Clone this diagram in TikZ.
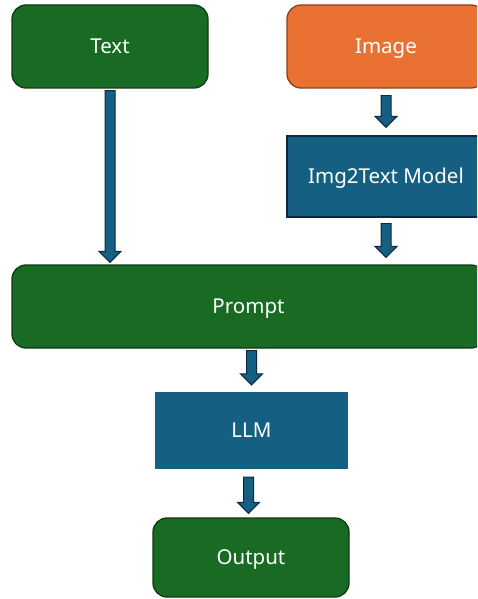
\documentclass[tikz,border=0pt]{standalone}
\usepackage{fontspec}
\setmainfont{Noto Sans}
\usetikzlibrary{calc}
\definecolor{accgreen}{HTML}{196B24}
\definecolor{accgreenD}{HTML}{0D3A13}
\definecolor{accorange}{HTML}{E97132}
\definecolor{accorangeD}{HTML}{8E4118}
\definecolor{accblue}{HTML}{156082}
\definecolor{accblueD}{HTML}{0E2841}
\tikzset{
  x=1pt, y=-1pt,
  lbl/.style={text=white, font=\fontsize{20.5}{24}\selectfont, inner sep=0pt, text height=14.6pt, text depth=0pt},
  greenbox/.style={lbl, rectangle, rounded corners=14pt, fill=accgreen, draw=accgreenD, line width=1.3pt},
  orangebox/.style={lbl, rectangle, rounded corners=14pt, fill=accorange, draw=accorangeD, line width=1.3pt},
  bluebox/.style={lbl, rectangle, fill=accblue, draw=accblueD, line width=1.1pt},
  plainblue/.style={lbl, rectangle, fill=accblue},
  arrowfill/.style={fill=accblue, draw=accblueD, line width=1pt, line join=miter},
  barrow/.style 2 args={to path={let \p1=(\tikztostart), \p2=(\tikztotarget) in
    (\x1-5pt,\y1-#1) -- (\x1+5pt,\y1-#1) -- (\x1+5pt,\y2+#2+11pt) -- (\x1+11pt,\y2+#2+11pt)
    -- (\x1,\y2+#2) -- (\x1-11pt,\y2+#2+11pt) -- (\x1-5pt,\y2+#2+11pt) -- cycle}}
}
\begin{document}
\begin{tikzpicture}
\useasboundingbox (0,0) rectangle (477,599);
\clip (0,0) rectangle (477,599);
\node[greenbox, minimum width=196pt, minimum height=83pt] (text) at (110,46.5) {Text};
\node[orangebox, minimum width=198pt, minimum height=83pt] (image) at (386,46.5) {Image};
\node[bluebox, minimum width=198pt, minimum height=81pt] (img2) at (386,176.5) {Img2Text Model};
\node[greenbox, minimum width=473pt, minimum height=83pt] (prompt) at (248.5,306.5) {Prompt};
\node[plainblue, minimum width=193pt, minimum height=77pt] (llm) at (251.5,430.5) {LLM};
\node[greenbox, minimum width=196pt, minimum height=79pt] (output) at (251,557.5) {Output};

\draw[arrowfill] (text.south) to[barrow={2pt}{2pt}] (text.south |- prompt.north);
\draw[arrowfill] (image.south) to[barrow={7pt}{8pt}] (img2.north);
\draw[arrowfill] (img2.south) to[barrow={6pt}{7pt}] (img2.south |- prompt.north);
\draw[arrowfill] (prompt.south) ++(3,0) coordinate (ps) (ps) to[barrow={2pt}{7pt}] (ps |- llm.north);
\draw[arrowfill] (llm.south) ++(-3,0) coordinate (ls) (ls) to[barrow={8pt}{4pt}] (ls |- output.north);
\end{tikzpicture}
\end{document}
